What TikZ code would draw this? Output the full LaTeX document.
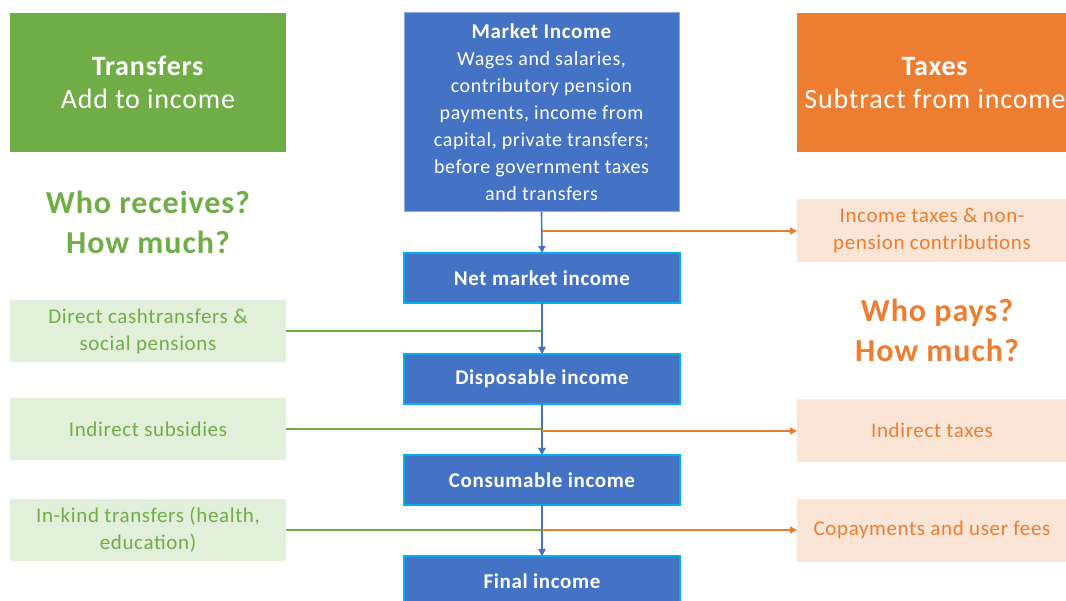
\documentclass[tikz,border=0pt]{standalone}
\usepackage{fontspec}
\setmainfont{Carlito}[LetterSpace=3]
\usetikzlibrary{arrows.meta}
\definecolor{hgreen}{HTML}{70AD47}
\definecolor{hblue}{HTML}{4472C4}
\definecolor{horange}{HTML}{ED7D31}
\definecolor{lgreen}{HTML}{E2EFDA}
\definecolor{lorange}{HTML}{FBE5D6}
\definecolor{cyanb}{HTML}{00B0F0}
\definecolor{paleb}{HTML}{8FAADC}
\tikzset{
  hdr/.style={minimum width=276pt, minimum height=139pt, inner sep=0pt, outer sep=0pt, text=white, align=center, font=\fontsize{28}{33}\selectfont},
  stage/.style={fill=hblue, draw=cyanb, line width=1.5pt, minimum width=276pt, minimum height=50pt, inner sep=0pt, outer sep=0pt, text=white, font=\bfseries\fontsize{21}{24}\selectfont},
  tbox/.style={fill=lgreen, minimum width=276pt, minimum height=62pt, inner sep=0pt, outer sep=0pt, text=hgreen, align=center, font=\fontsize{21}{27}\selectfont},
  xbox/.style={fill=lorange, minimum width=270pt, minimum height=63pt, inner sep=0pt, outer sep=0pt, text=horange, align=center, font=\fontsize{21}{27}\selectfont},
  ask/.style={align=center, font=\bfseries\fontsize{32}{40}\selectfont},
  flow/.style={draw=hblue, line width=1.6pt, -{Triangle[length=7pt,width=7pt]}},
  gflow/.style={draw=hgreen, line width=1.6pt, -{Triangle[length=7pt,width=7pt]}},
  oflow/.style={draw=horange, line width=1.6pt, -{Triangle[length=7pt,width=7pt]}},
}
\begin{document}
\begin{tikzpicture}[x=1pt,y=-1pt]
\useasboundingbox (0,0) rectangle (1066,601);
% headers
\node[hdr, fill=hgreen] (tr) at (148,82.5) {\textbf{Transfers}\\Add to income};
\node[hdr, fill=horange] (tx) at (935,83) {\textbf{Taxes}\\Subtract from income};
\node[fill=hblue, draw=paleb, line width=1pt, minimum width=275pt, minimum height=199pt, inner sep=0pt, outer sep=0pt, text=white, align=center, font=\fontsize{20}{27}\selectfont] (mi) at (541.5,112.5)
  {{\bfseries\fontsize{21}{27}\selectfont Market Income}\\Wages and salaries,\\contributory pension\\payments, income from\\capital, private transfers;\\before government taxes\\and transfers};
% questions
\node[ask, text=hgreen] (q1) at (148,222) {Who receives?\\How much?};
\node[ask, text=horange] (q2) at (937,330) {Who pays?\\How much?};
% stages
\node[stage] (nmi) at (542,278) {Net market income};
\node[stage] (dis) at (542,379) {Disposable income};
\node[stage] (con) at (542,480) {Consumable income};
\node[stage] (fin) at (542,581) {Final income};
% transfers
\node[tbox] (dct) at (148,331) {Direct cashtransfers \&\\social pensions};
\node[tbox] (isub) at (148,429) {Indirect subsidies};
\node[tbox] (ink) at (148,530) {In-kind transfers (health,\\education)};
% taxes
\node[xbox] (itx) at (932,230.5) {Income taxes \& non-\\pension contributions};
\node[xbox] (indt) at (932,430.5) {Indirect taxes};
\node[xbox] (cop) at (932,530) {Copayments and user fees};
% junction coordinates
\coordinate (j1) at (542,231);
\coordinate (j3) at (542,431);
\coordinate (j4) at (542,530);
% green inflows
\draw[gflow] (dct.east) -| (dis.north);
\draw[gflow] (isub.east) -| (con.north);
\draw[gflow] (ink.east) -| (fin.north);
% blue main flow
\draw[flow] (mi.south) -- (nmi.north);
\draw[flow] (nmi.south) -- (dis.north);
\draw[flow] (dis.south) -- (con.north);
\draw[flow] (con.south) -- (fin.north);
% orange outflows
\draw[oflow] (j1) -- (itx.west |- j1);
\draw[oflow] (j3) -- (indt.west |- j3);
\draw[oflow] (j4) -- (cop.west |- j4);
\end{tikzpicture}
\end{document}
